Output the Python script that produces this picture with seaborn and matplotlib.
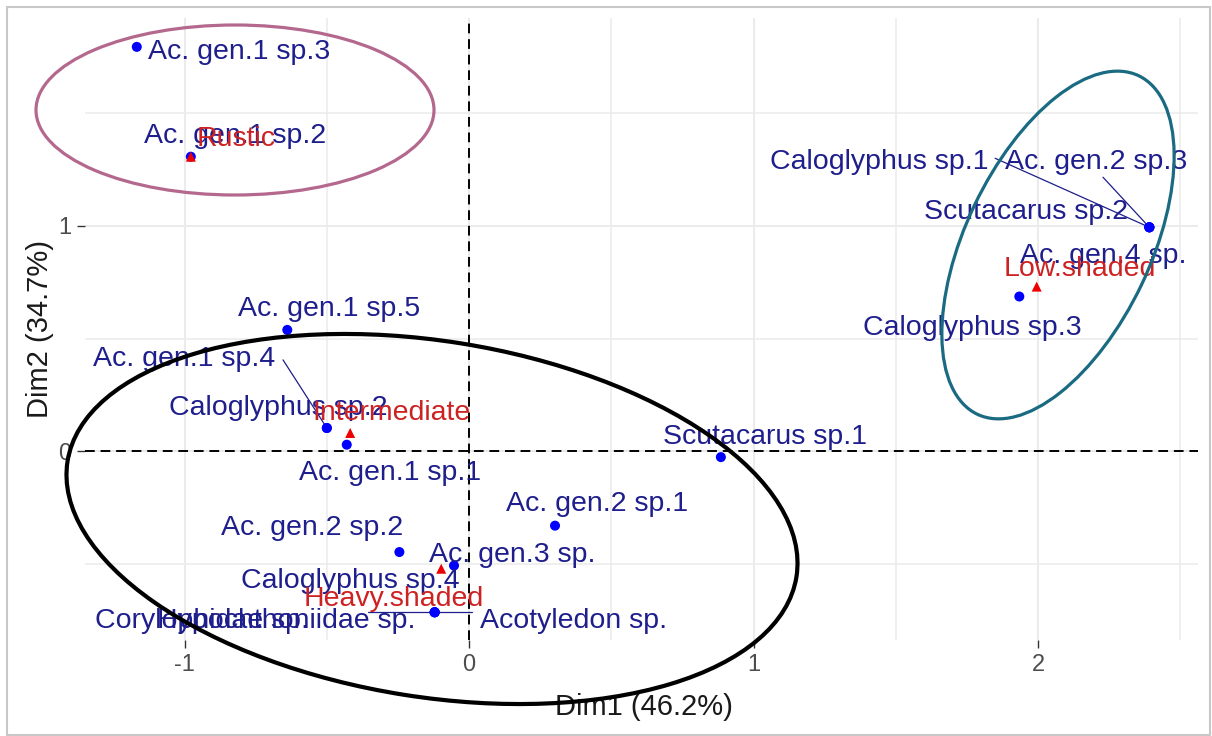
import matplotlib
matplotlib.use("Agg")
import matplotlib.pyplot as plt
import numpy as np
import pandas as pd
import seaborn as sns
from matplotlib.patches import Ellipse, Rectangle
from matplotlib.transforms import IdentityTransform
from matplotlib.ticker import MultipleLocator

# ---- Correspondence analysis: mite taxa (column points) ----
taxa = ["Ac. gen.1 sp.3", "Ac. gen.1 sp.2", "Caloglyphus sp.1", "Ac. gen.2 sp.3",
        "Scutacarus sp.2", "Ac. gen.4 sp.", "Caloglyphus sp.3", "Ac. gen.1 sp.5",
        "Ac. gen.1 sp.4", "Caloglyphus sp.2", "Ac. gen.1 sp.1", "Scutacarus sp.1",
        "Ac. gen.2 sp.1", "Ac. gen.2 sp.2", "Ac. gen.3 sp.", "Caloglyphus sp.4",
        "Corylophidae sp.", "Hypochthoniidae sp.", "Acotyledon sp."]
taxa_dim1 = [-1.168, -0.978, 2.391, 2.391, 2.391, 2.391, 1.934, -0.639,
             -0.500, -0.500, -0.430, 0.885, 0.302, -0.245, -0.053, -0.121,
             -0.121, -0.121, -0.121]
taxa_dim2 = [1.794, 1.307, 0.994, 0.994, 0.994, 0.994, 0.687, 0.539,
             0.104, 0.104, 0.030, -0.025, -0.329, -0.446, -0.506, -0.713,
             -0.713, -0.713, -0.713]

# ---- Habitats (row points) ----
habitats = ["Rustic", "Low.shaded", "Intermediate", "Heavy.shaded"]
hab_dim1 = [-0.978, 1.995, -0.418, -0.098]
hab_dim2 = [1.307, 0.731, 0.082, -0.520]

dim1_pct = 46.2
dim2_pct = 34.7

# ---- label placement (repelled positions, data units) ----
taxa_label_pos = {
    "Ac. gen.1 sp.3": (-0.808, 1.772, "center"),
    "Ac. gen.1 sp.2": (-0.822, 1.400, "center"),
    "Caloglyphus sp.1": (1.441, 1.285, "center"),
    "Ac. gen.2 sp.3": (2.204, 1.285, "center"),
    "Scutacarus sp.2": (1.958, 1.064, "center"),
    "Ac. gen.4 sp.": (2.228, 0.865, "center"),
    "Caloglyphus sp.3": (1.768, 0.546, "center"),
    "Ac. gen.1 sp.5": (-0.492, 0.630, "center"),
    "Ac. gen.1 sp.4": (-1.002, 0.408, "center"),
    "Caloglyphus sp.2": (-0.671, 0.191, "center"),
    "Ac. gen.1 sp.1": (-0.278, -0.097, "center"),
    "Scutacarus sp.1": (1.040, 0.063, "center"),
    "Ac. gen.2 sp.1": (0.450, -0.234, "center"),
    "Ac. gen.2 sp.2": (-0.552, -0.340, "center"),
    "Ac. gen.3 sp.": (0.151, -0.457, "center"),
    "Caloglyphus sp.4": (-0.418, -0.576, "center"),
    "Corylophidae sp.": (-1.315, -0.753, "left"),
    "Hypochthoniidae sp.": (-1.097, -0.753, "left"),
    "Acotyledon sp.": (0.039, -0.753, "left"),
}
hab_label_pos = {
    "Rustic": (-0.819, 1.387),
    "Low.shaded": (2.148, 0.807),
    "Intermediate": (-0.274, 0.169),
    "Heavy.shaded": (-0.264, -0.655),
}
# connector segments: label end -> point
segments = {
    "Caloglyphus sp.1": (1.849, 1.300),
    "Ac. gen.2 sp.3": (2.228, 1.216),
    "Ac. gen.1 sp.4": (-0.654, 0.406),
    "Corylophidae sp.": (-0.355, -0.713),
    "Acotyledon sp.": (0.011, -0.713),
}

TAXA_TXT = "#1e1e8c"
HAB_TXT = "#cc2222"

sns.set_theme(style="whitegrid")
plt.rcParams["font.family"] = ["Liberation Sans", "DejaVu Sans"]
plt.rcParams["axes.unicode_minus"] = False

W, H = 1212, 736
fig = plt.figure(figsize=(W / 100, H / 100), dpi=100)
fig.patch.set_facecolor("white")
ax = fig.add_axes([85 / W, 1 - 640 / H, (1198 - 85) / W, (640 - 18) / H])
ax.set_facecolor("white")

pts = pd.concat([
    pd.DataFrame({"Dim1": taxa_dim1, "Dim2": taxa_dim2, "kind": "col"}),
    pd.DataFrame({"Dim1": hab_dim1, "Dim2": hab_dim2, "kind": "row"}),
], ignore_index=True)

ax.axhline(0, color="black", lw=1.4, ls=(0, (5, 3)), zorder=1)
ax.axvline(0, color="black", lw=1.4, ls=(0, (5, 3)), zorder=1)

sns.scatterplot(data=pts, x="Dim1", y="Dim2", hue="kind", style="kind",
                palette={"col": "#0000ff", "row": "#ee0000"},
                markers={"col": "o", "row": "^"}, s=52, linewidth=0,
                legend=False, ax=ax, zorder=3)

# connector segments
tx = dict(zip(taxa, zip(taxa_dim1, taxa_dim2)))
for name, (sx, sy) in segments.items():
    px, py = tx[name]
    ax.plot([sx, px], [sy, py], color=TAXA_TXT, lw=0.9, zorder=2)

for name in taxa:
    lx, ly, ha = taxa_label_pos[name]
    ax.text(lx, ly, name, color=TAXA_TXT, fontsize=20.5, ha=ha, va="center", zorder=4)
for name in habitats:
    lx, ly = hab_label_pos[name]
    ax.text(lx, ly, name, color=HAB_TXT, fontsize=20.5, ha="center", va="center", zorder=5)

ax.set_xlim(-1.35, 2.562)
ax.set_ylim(-0.836, 1.922)
ax.xaxis.set_major_locator(MultipleLocator(1))
ax.yaxis.set_major_locator(MultipleLocator(1))
ax.xaxis.set_minor_locator(MultipleLocator(0.5))
ax.yaxis.set_minor_locator(MultipleLocator(0.5))
ax.grid(which="major", color="#ebebeb", lw=1.4)
ax.grid(which="minor", color="#ebebeb", lw=1.1)
for sp in ax.spines.values():
    sp.set_visible(False)
ax.tick_params(axis="both", which="major", length=6, width=1, color="#333333",
               labelsize=17, labelcolor="#4d4d4d", pad=4, bottom=True, left=True)
ax.tick_params(axis="both", which="minor", length=0)

ax.set_xlabel(f"Dim1 ({dim1_pct}%)", fontsize=21, color="#1a1a1a")
ax.set_ylabel(f"Dim2 ({dim2_pct}%)", fontsize=21, color="#1a1a1a")
ax.xaxis.label.set_va("center")
ax.yaxis.label.set_va("center")
ax.xaxis.set_label_coords(0.502, -(707 - 640) / 622)
ax.yaxis.set_label_coords(-(85 - 40) / 1113, 0.50)

# group outlines drawn on the figure (pixel coordinates, y up)
idt = IdentityTransform()
fig.add_artist(Ellipse((235, H - 110), 398, 170, angle=0, fill=False,
                       edgecolor="#b4688e", lw=2.3, transform=idt, zorder=10))
fig.add_artist(Ellipse((1058, H - 245), 185, 375, angle=-25.5, fill=False,
                       edgecolor="#1a6a82", lw=2.3, transform=idt, zorder=10))
fig.add_artist(Ellipse((432, H - 519), 738, 356, angle=-9, fill=False,
                       edgecolor="black", lw=3.0, transform=idt, zorder=10))

# outer frame
fig.add_artist(Rectangle((7, 1), W - 9, H - 8, fill=False, edgecolor="#c8c8c8",
                         lw=1.5, transform=idt, zorder=11))

fig.savefig("out.png", dpi=100)
